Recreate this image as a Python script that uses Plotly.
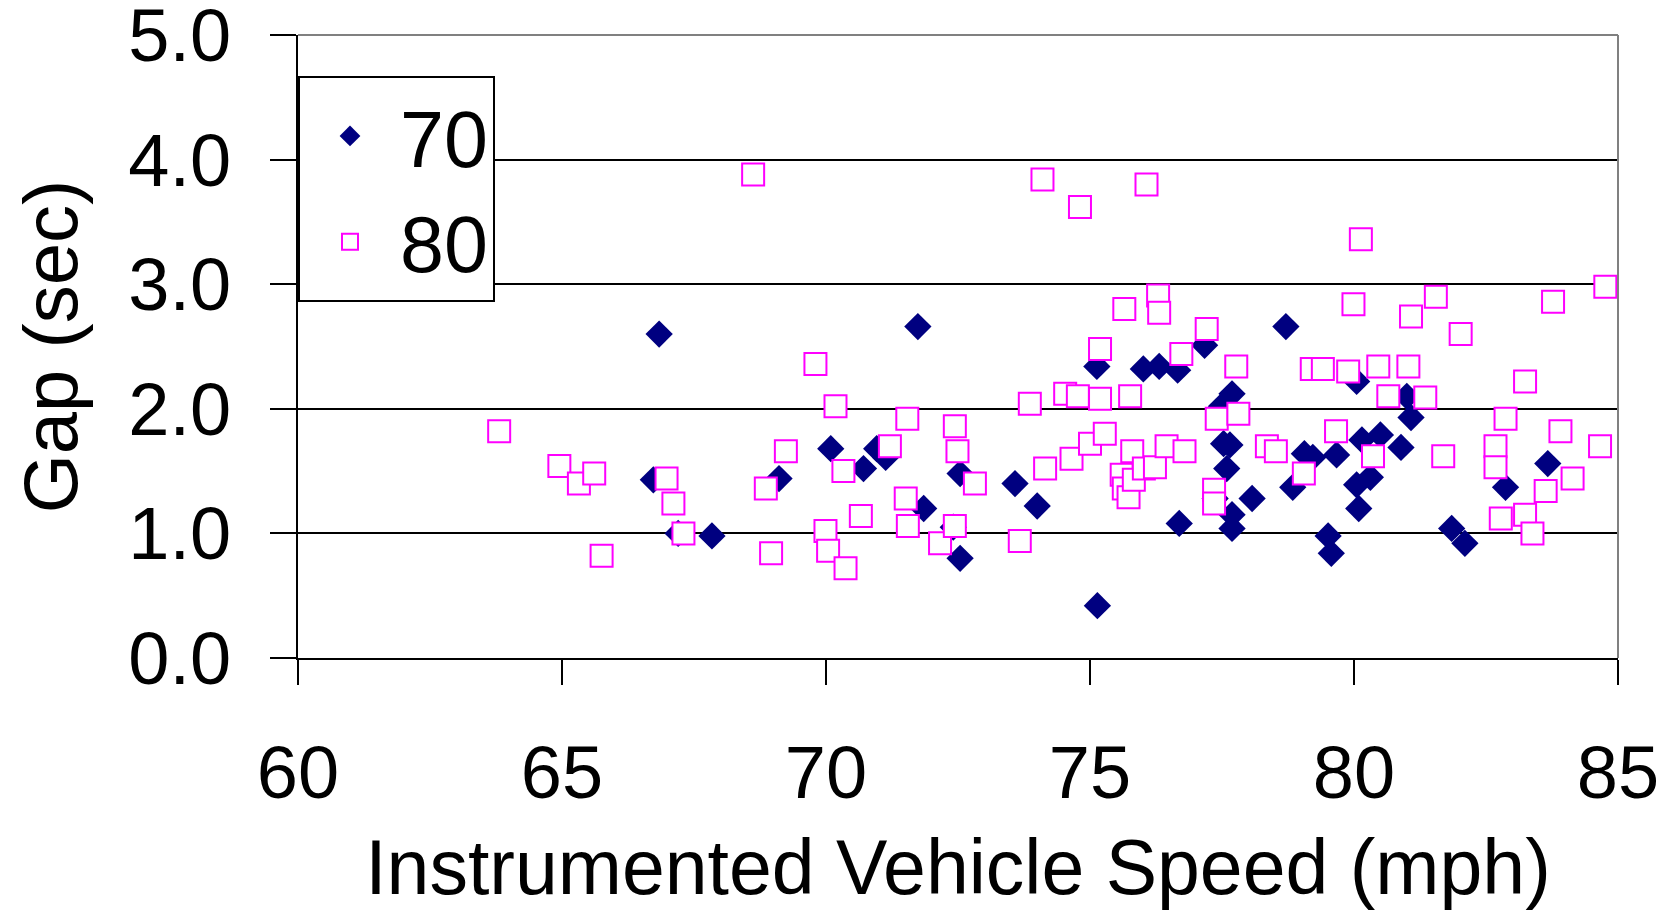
import plotly.graph_objects as go

# Series "70": instrumented vehicle speed (mph) vs gap (sec)
speed_70 = [66.84, 66.73, 67.20, 67.84, 69.11, 70.09, 70.71, 70.96, 71.13, 71.74,
            71.85, 72.41, 72.54, 72.54, 73.58, 74.00, 75.13, 75.14, 76.01, 76.31,
            76.66, 76.69, 77.17, 77.37, 77.49, 77.53, 77.59, 77.65, 77.69, 77.69,
            77.69, 78.07, 78.71, 78.84, 79.06, 79.22, 79.51, 79.57, 79.67, 80.05,
            80.05, 80.09, 80.15, 80.31, 80.50, 80.89, 81.00, 81.08, 81.85, 82.10,
            82.87, 83.67]
gap_70 = [2.60, 1.43, 1.00, 0.98, 1.44, 1.68, 1.52, 1.68, 1.61, 2.66,
          1.20, 1.05, 1.48, 0.80, 1.40, 1.22, 2.34, 0.42, 2.32, 2.34,
          2.31, 1.08, 2.51, 1.28, 2.02, 1.72, 1.52, 1.71, 2.12, 1.15,
          1.04, 1.28, 2.66, 1.37, 1.64, 1.61, 0.98, 0.84, 1.63, 2.22,
          1.39, 1.20, 1.75, 1.45, 1.79, 1.69, 2.10, 1.93, 1.04, 0.92,
          1.37, 1.56]

# Series "80"
speed_80 = [63.81, 64.95, 65.32, 65.61, 65.75, 66.98, 67.11, 67.30, 68.62, 68.86,
            68.96, 69.24, 69.80, 69.99, 70.04, 70.18, 70.33, 70.37, 70.66, 71.21,
            71.51, 71.54, 71.55, 72.16, 72.44, 72.44, 72.49, 72.82, 73.67, 73.86,
            74.10, 74.15, 74.53, 74.65, 74.77, 74.81, 75.00, 75.19, 75.19, 75.28,
            75.60, 75.64, 75.65, 75.73, 75.76, 75.80, 75.83, 76.02, 76.07, 76.23,
            76.29, 76.31, 76.45, 76.73, 76.79, 77.21, 77.35, 77.35, 77.40, 77.77,
            77.81, 78.35, 78.52, 79.05, 79.20, 79.41, 79.66, 79.89, 79.99, 80.13,
            80.36, 80.46, 80.65, 81.03, 81.08, 81.35, 81.55, 81.69, 82.02, 82.68,
            82.68, 82.78, 82.87, 83.24, 83.24, 83.38, 83.63, 83.77, 83.91, 84.14,
            84.66, 84.76]
gap_80 = [1.82, 1.54, 1.40, 1.48, 0.82, 1.44, 1.24, 1.00, 3.88, 1.36,
          0.84, 1.66, 2.36, 1.02, 0.86, 2.02, 1.50, 0.72, 1.14, 1.70,
          1.28, 1.92, 1.06, 0.92, 1.86, 1.06, 1.66, 1.40, 0.94, 2.04,
          3.84, 1.52, 2.12, 1.60, 2.10, 3.62, 1.72, 2.48, 2.08, 1.80,
          1.47, 1.36, 2.80, 1.29, 2.10, 1.66, 1.43, 1.52, 3.80, 1.53,
          2.91, 2.77, 1.70, 2.44, 1.66, 2.64, 1.35, 1.24, 1.92, 2.34,
          1.96, 1.70, 1.66, 1.48, 2.32, 2.32, 1.82, 2.30, 2.84, 3.36,
          1.62, 2.34, 2.10, 2.34, 2.74, 2.09, 2.90, 1.62, 2.60, 1.70,
          1.53, 1.12, 1.92, 2.22, 1.15, 1.00, 1.34, 2.86, 1.82, 1.44,
          1.70, 2.98]

x_ticks = [60, 65, 70, 75, 80, 85]
y_ticks = [0, 1, 2, 3, 4, 5]

FONT = "Arial, Liberation Sans, sans-serif"

fig = go.Figure()
fig.add_trace(go.Scatter(
    x=speed_70, y=gap_70, mode="markers", name="70",
    marker=dict(symbol="diamond", size=21, color="#000080",
                line=dict(width=0)),
))
fig.add_trace(go.Scatter(
    x=speed_80, y=gap_80, mode="markers", name="80",
    marker=dict(symbol="square", size=22, color="white",
                line=dict(width=2, color="#FF00FF")),
))

# the page body adds an 8px offset, so the figure is 8px smaller than the window
fig.update_layout(
    width=1661, height=902,
    margin=dict(l=290, r=51, t=27, b=252),
    paper_bgcolor="white", plot_bgcolor="white",
    font=dict(family=FONT, size=74, color="black"),
    showlegend=True,
    legend=dict(
        x=0, y=0.934, xanchor="left", yanchor="top",
        bgcolor="white", bordercolor="black", borderwidth=2,
        font=dict(family=FONT, size=79, color="black"),
        itemwidth=90, tracegroupgap=0,
    ),
    xaxis=dict(
        range=[60, 85], tickvals=x_ticks, ticktext=[str(v) for v in x_ticks],
        showgrid=False, zeroline=False, automargin=False,
        showline=True, linecolor="black", linewidth=2,
        ticks="outside", ticklen=25, tickwidth=2, tickcolor="black",
        tickfont=dict(family=FONT, size=74),
        ticklabelstandoff=24, ticklabeloverflow="allow",
        title=dict(text="Instrumented Vehicle Speed (mph)",
                   font=dict(family=FONT, size=77), standoff=27),
    ),
    yaxis=dict(
        range=[0, 5], tickvals=y_ticks, ticktext=[f"{v:.1f}" for v in y_ticks],
        showgrid=True, gridcolor="black", gridwidth=2, zeroline=False,
        automargin=False,
        showline=True, linecolor="black", linewidth=2,
        ticks="outside", ticklen=26, tickwidth=2, tickcolor="black",
        tickfont=dict(family=FONT, size=74),
        ticklabelstandoff=24, ticklabeloverflow="allow",
        title=dict(text="Gap (sec)", font=dict(family=FONT, size=76), standoff=37),
    ),
    shapes=[
        dict(type="line", xref="paper", yref="paper", x0=0, x1=1, y0=1, y1=1,
             line=dict(color="#808080", width=2), layer="above"),
        dict(type="line", xref="paper", yref="paper", x0=1, x1=1, y0=0, y1=1,
             line=dict(color="#808080", width=2), layer="above"),
    ],
)

fig.write_html("out.html")
